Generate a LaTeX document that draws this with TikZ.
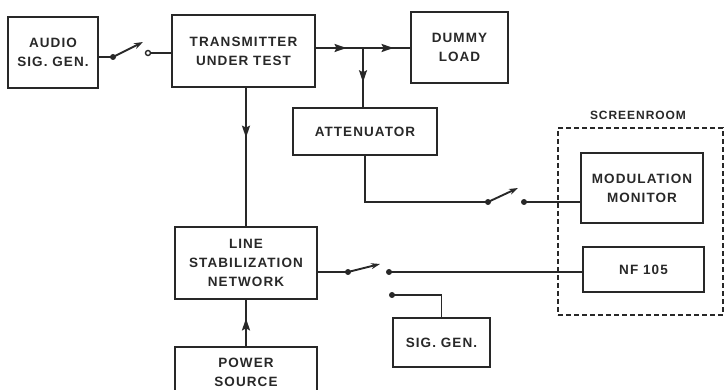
\documentclass[tikz,border=0pt]{standalone}
\usepackage{fontspec}
\newfontfamily\boxfont[LetterSpace=8]{Liberation Sans}
\usetikzlibrary{arrows.meta}
\definecolor{ink}{RGB}{40,40,40}

\tikzset{
  blk/.style n args={2}{draw,minimum width=#1,minimum height=#2,align=center,inner sep=0pt},
  flow/.style={-{Stealth[length=12pt,width=8pt,inset=2pt]}},
  arm/.style={-{Stealth[length=9pt,width=6pt]}},
  contact/.style={circle,draw,line width=1.4pt,inner sep=0pt,minimum size=5pt},
  room/.style={draw,line width=1.2pt,dash pattern=on 5pt off 3pt}
}

\begin{document}
\begin{tikzpicture}[x=1pt,y=-1pt,line width=1.9pt,color=ink,
    font=\boxfont\bfseries\fontsize{13.5}{19}\selectfont]
  \useasboundingbox (0,0) rectangle (726,390);
  \clip (0,0) rectangle (726,390);
  % blocks
  \node[blk={90pt}{71pt}] (audio) at (53,52.5) {AUDIO\\SIG. GEN.};
  \node[blk={143pt}{72pt}] (tx) at (243.5,51) {TRANSMITTER\\UNDER TEST};
  \node[blk={97pt}{71pt}] (dummy) at (459.5,47.5) {DUMMY\\LOAD};
  \node[blk={144pt}{47pt}] (att) at (365,131.5) {ATTENUATOR};
  \node[blk={122pt}{70pt}] (mod) at (642,188) {MODULATION\\MONITOR};
  \node[blk={121pt}{45pt}] (nf) at (643.5,269.5) {NF 105};
  \node[blk={142pt}{72pt}] (lsn) at (246,263) {LINE\\STABILIZATION\\NETWORK};
  \node[blk={142pt}{50pt}] (pwr) at (246,372) {POWER\\SOURCE};
  \node[blk={97pt}{49pt}] (sg) at (441.5,342.5) {SIG. GEN.};
  % screen room
  \node[room,minimum width=165pt,minimum height=187pt] (scr) at (640.5,221.5) {};
  \node[font=\boxfont\bfseries\fontsize{12}{14}\selectfont] (scrlbl) at (638,115) {SCREENROOM};
  % transmitter output
  \coordinate (j) at (363,48);
  \draw (tx.east |- j) -- (j -| dummy.west);
  \draw (j) -- (j |- att.north);
  \draw (lsn.north |- tx.south) -- (lsn.north);
  \draw (pwr.north) -- (lsn.south);
  \path (tx.east |- j) -- (j) coordinate[pos=.65] (m1);
  \path (j) -- (j -| dummy.west) coordinate[pos=.65] (m2);
  \path (j) -- (j |- att.north) coordinate[pos=.58] (m3);
  \path (lsn.north |- tx.south) -- (lsn.north) coordinate[pos=.36] (m4);
  \path (pwr.north) -- (lsn.south) coordinate[pos=.6] (m5);
  \draw[flow] (tx.east |- j) -- (m1);
  \draw[flow] (j) -- (m2);
  \draw[flow] (j) -- (m3);
  \draw[flow] (lsn.north |- tx.south) -- (m4);
  \draw[flow] (pwr.north) -- (m5);
  % switch to transmitter
  \coordinate (s1a) at (113,57);
  \coordinate (s1b) at (143,42);
  \node[contact] (c1) at (148,53) {};
  \draw (audio.east |- s1a) -- (s1a);
  \draw[arm] (s1a) -- (s1b);
  \draw (c1.east) -- (c1 -| tx.west);
  % switch to modulation monitor
  \coordinate (s2a) at (488,202);
  \coordinate (s2b) at (518,188);
  \coordinate (c2) at (524,202);
  \draw (att.south) |- (s2a);
  \draw[arm] (s2a) -- (s2b);
  \draw (c2) -- (c2 -| mod.west);
  % switch from line stabilization network
  \coordinate (s3a) at (348,272);
  \coordinate (s3b) at (380,264);
  \coordinate (c3) at (389,272);
  \coordinate (c4) at (392,295);
  \draw (lsn.east |- s3a) -- (s3a);
  \draw[arm] (s3a) -- (s3b);
  \draw (c3) -- (c3 -| nf.west);
  \draw (c4) -| (sg.north);
  \foreach \p in {s1a,s2a,c2,s3a,c3,c4}{\fill (\p) circle (3pt);}
\end{tikzpicture}
\end{document}
